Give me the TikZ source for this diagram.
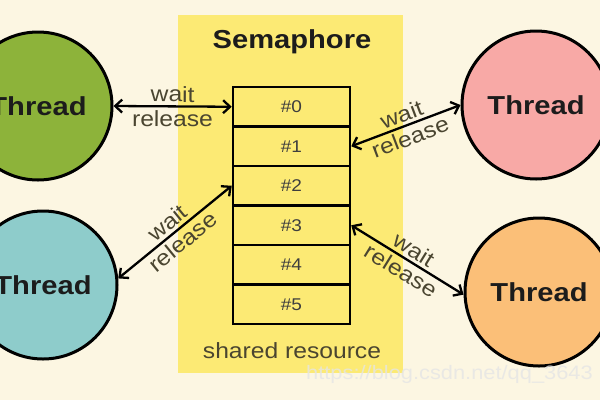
\documentclass[tikz,border=0pt]{standalone}
\usepackage{fontspec}
\setmainfont{Liberation Sans}[FakeStretch=1.12]
\usetikzlibrary{arrows.meta}
\definecolor{bg}{HTML}{FCF6E2}
\definecolor{semyellow}{HTML}{FCEA74}
\definecolor{gthread}{HTML}{8DB33A}
\definecolor{cthread}{HTML}{8ECCCB}
\definecolor{pthread}{HTML}{F8A9A6}
\definecolor{othread}{HTML}{FBBF78}
\definecolor{lblcol}{HTML}{4A4530}
\definecolor{txtdark}{HTML}{1C1C1C}
\begin{document}
\begin{tikzpicture}[x=1pt,y=-1pt,
 thread/.style={circle,draw=black,line width=3pt,minimum size=148pt,inner sep=0pt,
   font=\fontsize{26}{26}\selectfont\bfseries,text=txtdark},
 cell/.style={draw=black,line width=2.5pt,fill=semyellow,minimum width=117pt,
   minimum height=39.5pt,inner sep=0pt,font=\fontsize{17}{17}\selectfont,text=txtdark!85},
 conn/.style={line width=2.3pt,
   {Straight Barb[length=7pt,width=13pt]}-{Straight Barb[length=7pt,width=13pt]}},
 lbl/.style={font=\fontsize{22}{22}\selectfont,text=lblcol,sloped,inner sep=3pt}]
\clip (0,0) rectangle (600,400);
\fill[bg] (0,0) rectangle (600,400);
% semaphore area
\node[fill=semyellow,minimum width=225pt,minimum height=358pt,inner sep=0pt] (sem) at (290.5,194) {};
\node[font=\fontsize{26}{26}\selectfont\bfseries,text=txtdark] (title) at (292,42) {Semaphore};
\node[font=\fontsize{22}{22}\selectfont,text=lblcol] (shared) at (292,351) {shared resource};
% cells
\foreach \i in {0,...,5}{
  \node[cell] (c\i) at (291.5,{106.75+39.5*\i}) {\#\i};
}
% threads
\node[thread,fill=gthread] (g) at (38,106) {Thread};
\node[thread,fill=cthread] (cy) at (43,285) {Thread};
\node[thread,fill=pthread] (pk) at (536,105) {Thread};
\node[thread,fill=othread] (or) at (539,292) {Thread};
% connectors
\draw[conn] (g.east) -- node[lbl,above]{wait} node[lbl,below]{release} (c0.west);
\draw[conn] (cy.5) -- node[lbl,above]{wait} node[lbl,below]{release} (c2.west);
\draw[conn] (c1.east) -- node[lbl,above]{wait} node[lbl,below]{release} (pk.west);
\draw[conn] (c3.east) -- node[lbl,above]{wait} node[lbl,below]{release} (or.182);
% watermark
\node[anchor=west,inner sep=0pt,font=\fontsize{19.5}{19.5}\selectfont,text=white!80!gray,opacity=0.8] (wm) at (306,374) {https://blog.csdn.net/qq\_3643};
\end{tikzpicture}
\end{document}
